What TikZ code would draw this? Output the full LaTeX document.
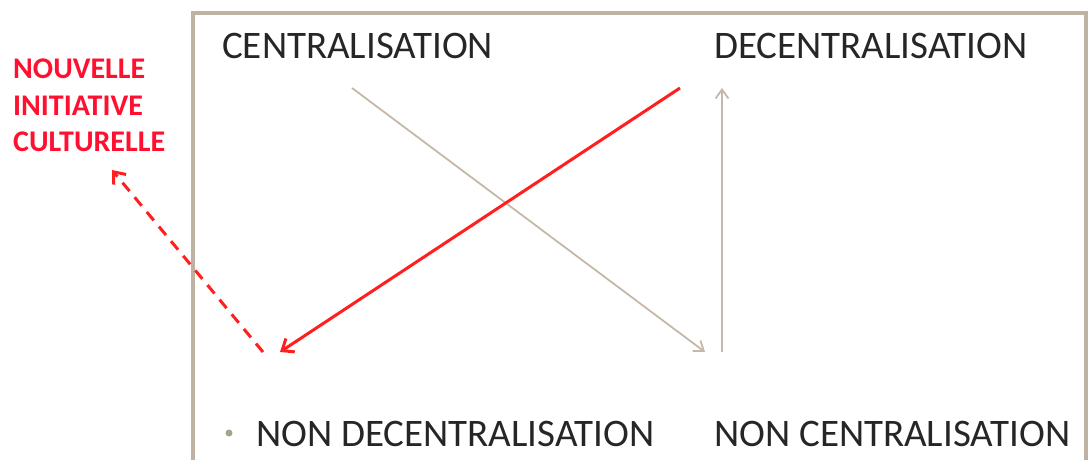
\documentclass[tikz,border=0pt]{standalone}
\usepackage{fontspec}
\setmainfont{Carlito}
\usetikzlibrary{arrows.meta}
\definecolor{frame}{HTML}{C0B2A2}
\definecolor{beige}{HTML}{C4B8A8}
\definecolor{txt}{HTML}{262626}
\definecolor{myred}{HTML}{FF1F1F}
\definecolor{redtxt}{HTML}{FF1030}
\definecolor{bul}{HTML}{A5A58C}
\tikzset{
  lbl/.style={anchor=base west, inner sep=0pt, text=txt, font=\fontsize{39}{44}\selectfont},
  redlbl/.style={anchor=base west, inner sep=0pt, text=redtxt, align=left, font=\bfseries\fontsize{30}{36.7}\selectfont},
  thinarr/.style={draw=beige, line width=1.8pt, -{Straight Barb[length=9pt,width=13pt,line width=1.8pt]}},
  redarr/.style={draw=myred, line width=3pt, -{Straight Barb[length=10pt,width=16pt,line width=3pt]}},
}
\begin{document}
\begin{tikzpicture}[x=1pt,y=-1pt]
\useasboundingbox (0,0) rectangle (1090,459);
\draw[frame, line width=4pt] (193,470) -- (193,13) -- (1086,13) -- (1086,470);
\node[lbl] (c) at (222,58) {CENTRALISATION};
\node[lbl] (d) at (714,58) {DECENTRALISATION};
\node[lbl] (nd) at (256,446) {NON DECENTRALISATION};
\node[lbl] (nc) at (714,446) {NON CENTRALISATION};
\node[circle, fill=bul, inner sep=0pt, minimum size=7pt] (b) at (229,433) {};
\node[redlbl] (nic) at (13,151.7) {NOUVELLE\\INITIATIVE\\CULTURELLE};
\coordinate (a1s) at (352,88);
\coordinate (a1e) at (705,352);
\coordinate (a2s) at (722,352);
\coordinate (a2e) at (722,88);
\coordinate (a3s) at (680,88);
\coordinate (a3e) at (280,352);
\coordinate (a4s) at (263,352);
\coordinate (a4e) at (112,170);
\draw[thinarr] (a1s) -- (a1e);
\draw[thinarr] (a2s) -- (a2e);
\draw[redarr] (a3s) -- (a3e);
\draw[redarr, dash pattern=on 11pt off 8pt] (a4s) -- (a4e);
\end{tikzpicture}
\end{document}
